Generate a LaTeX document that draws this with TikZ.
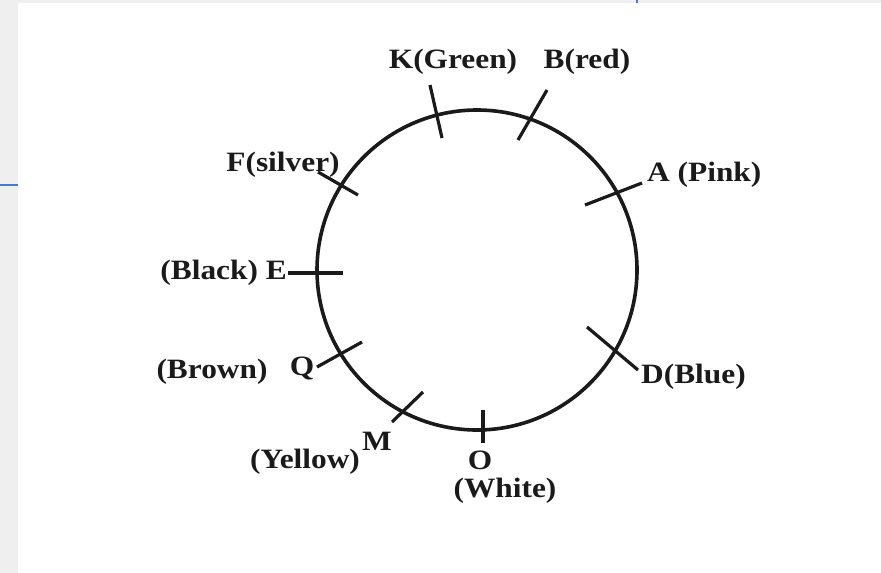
\documentclass[tikz,border=0pt]{standalone}
\usepackage{fontspec}
\setmainfont{Liberation Serif}
\usepackage{graphicx}
\newcommand\lbltext[1]{\scalebox{1.12}[1]{#1}}
\definecolor{bggray}{HTML}{EFEFEF}
\definecolor{edgeblue}{HTML}{4A78CF}
\definecolor{ink}{HTML}{1A1A1A}
\tikzset{
  lbl/.style={font=\fontsize{28}{30}\selectfont\bfseries, inner sep=0pt, text=ink},
  tickline/.style={draw=ink, line width=3.2pt},
  ring/.style={draw=ink, line width=3.6pt}
}
\begin{document}
\begin{tikzpicture}[x=1pt,y=-1pt]
\useasboundingbox (0,0) rectangle (881,573);
\fill[bggray] (0,0) rectangle (881,573);
\fill[white] (18,3) rectangle (881,573);
\draw[edgeblue, line width=1.6pt] (0,185) -- (18,185);
\draw[edgeblue, line width=1.6pt] (637,0) -- (637,3);

\coordinate (ctr) at (477,270);
\draw[ring] (ctr) circle[radius=160];

% ticks
\coordinate (k1) at (430,85);  \coordinate (k2) at (442,138);
\coordinate (b1) at (547,90);  \coordinate (b2) at (518,140);
\coordinate (f1) at (318,172); \coordinate (f2) at (358,195);
\coordinate (e1) at (288,273); \coordinate (e2) at (343,273);
\coordinate (a1) at (585,205); \coordinate (a2) at (642,183);
\coordinate (d1) at (587,327); \coordinate (d2) at (638,370);
\coordinate (o1) at (483,410); \coordinate (o2) at (483,443);
\coordinate (q1) at (317,367); \coordinate (q2) at (362,342);
\coordinate (m1) at (392,422); \coordinate (m2) at (423,392);
\foreach \t in {k,b,f,e,a,d,o,q,m} \draw[tickline] (\t1) -- (\t2);

% labels
\node[lbl] (K) at (453,62) {\lbltext{K(Green)}};
\node[lbl] (B) at (587,62) {\lbltext{B(red)}};
\node[lbl] (F) at (283,165) {\lbltext{F(silver)}};
\node[lbl, anchor=east] (E) at (287,273) {\lbltext{(Black) E}};
\node[lbl, anchor=west] (A) at (647,175) {\lbltext{A (Pink)}};
\node[lbl, anchor=west] (D) at (641,377) {\lbltext{D(Blue)}};
\node[lbl] (Br) at (212,372) {\lbltext{(Brown)}};
\node[lbl] (Q) at (302,368) {\lbltext{Q}};
\node[lbl] (M) at (377,441) {\lbltext{M}};
\node[lbl] (Y) at (305,462) {\lbltext{(Yellow)}};
\node[lbl] (O) at (480,460) {\lbltext{O}};
\node[lbl] (W) at (505,491) {\lbltext{(White)}};
\end{tikzpicture}
\end{document}
